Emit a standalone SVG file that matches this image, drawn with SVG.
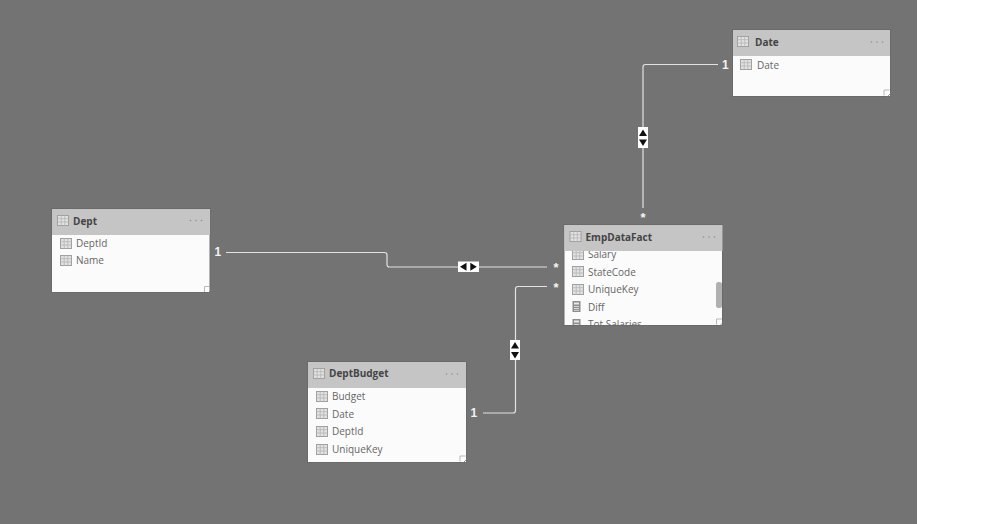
<svg xmlns="http://www.w3.org/2000/svg" width="998" height="524" viewBox="0 0 998 524">
<style>
text{font-family:"Open Sans","Noto Sans","Liberation Sans",sans-serif}
.card{fill:#fbfbfb;stroke:#6a6a6a;stroke-width:1}
.head{fill:#c5c5c5}
.title{font-size:10px;font-weight:700;fill:#444}
.field{font-size:10px;fill:#666}
.dots{fill:#8f8f8f}
.line{fill:none;stroke:#e2e2e2;stroke-width:1.2}
.card-no{font-size:12px;font-weight:700;fill:#f2f2f2;font-family:"Liberation Sans",sans-serif}
.star{font-size:13px;font-weight:700;fill:#f5f5f5;font-family:"Liberation Sans",sans-serif;text-anchor:middle}
.badge{fill:#fff}
.arrow{fill:#111}
.grip{fill:none;stroke:#a8a8a8;stroke-width:.8}
.ic-t{fill:#e2e2e2;stroke:#a0a0a0;stroke-width:1}
.ic-l{stroke:#b4b4b4;stroke-width:.8;fill:none}
.ic-c{fill:#8e8e8e}
</style>
<defs>
<symbol id="tbl" viewBox="0 0 12 11" width="12" height="11" overflow="visible">
<rect class="ic-t" x=".5" y=".5" width="11" height="10"/>
<path class="ic-l" d="M.5 3.7H11.5M.5 7H11.5M4.2 .5V10.5M7.8 .5V10.5"/>
</symbol>
<symbol id="calc" viewBox="0 0 9 11" width="9" height="11" overflow="visible">
<rect class="ic-c" x=".5" y="0" width="8" height="11"/>
<rect x="2" y="1.5" width="5" height="2" fill="#e8e8e8"/>
<path d="M2 5.5H7M2 7.5H7M2 9.3H7" stroke="#e8e8e8" stroke-width=".8"/>
</symbol>
<symbol id="grip" viewBox="0 0 8 8" width="8" height="8" overflow="visible">
<path class="grip" d="M.5 6V.5H6"/>
<path d="M3.5 7.500L7.500 3.500M5.500 7.500L7.500 5.500" stroke="#777" stroke-width=".8" fill="none"/>
</symbol>
<clipPath id="empBody"><rect x="564" y="251" width="158" height="74"/></clipPath>
</defs>
<rect width="998" height="524" fill="#fff"/>
<rect width="917" height="524" fill="#737373"/>

<g id="connectors">
<path class="line" d="M718 64.500H645.500Q643 64.500 643 67V208"/>
<path class="line" d="M226 252.500H384.500Q387 252.500 387 255V264.500Q387 267 389.500 267H547"/>
<path class="line" d="M547 286.500H518Q515.500 286.500 515.500 289V410.500Q515.500 413 513 413H483"/>
<g>
<rect class="badge" x="638" y="127" width="10" height="21"/>
<path class="arrow" d="M643 129.500L647 136H639ZM643 146L639 139.500H647Z"/>
</g>
<g>
<rect class="badge" x="458" y="261.500" width="21" height="10.500"/>
<path class="arrow" d="M460 266.700L466.500 262.800V270.700ZM476.800 266.700L470.300 262.800V270.700Z"/>
</g>
<g>
<rect class="badge" x="510" y="340" width="10" height="20"/>
<path class="arrow" d="M515 342L519 348.500H511ZM515 358.500L511 352H519Z"/>
</g>
<text class="card-no" x="722" y="68.500">1</text>
<text class="card-no" x="214.500" y="256">1</text>
<text class="card-no" x="470.500" y="416.500">1</text>
<text class="star" x="643" y="222">*</text>
<text class="star" x="556" y="272">*</text>
<text class="star" x="556" y="291.500">*</text>
</g>

<g id="date">
<rect class="card" x="732.500" y="29.500" width="158" height="67"/>
<rect class="head" x="733" y="30" width="157" height="26"/>
<use href="#tbl" x="737" y="36"/>
<text class="title" x="755" y="45.500">Date</text>
<g class="dots"><circle cx="871.500" cy="42" r=".8"/><circle cx="877" cy="42" r=".8"/><circle cx="882.500" cy="42" r=".8"/></g>
<use href="#tbl" x="740" y="59"/>
<text class="field" x="757" y="68.500">Date</text>
<use href="#grip" x="883.500" y="89.500"/>
</g>

<g id="dept">
<rect class="card" x="51.500" y="208.500" width="158.500" height="84"/>
<rect class="head" x="52" y="209" width="158" height="26"/>
<use href="#tbl" x="57" y="215"/>
<text class="title" x="73" y="224.500">Dept</text>
<g class="dots"><circle cx="190.500" cy="220.500" r=".8"/><circle cx="196" cy="220.500" r=".8"/><circle cx="201.500" cy="220.500" r=".8"/></g>
<use href="#tbl" x="60" y="238"/>
<text class="field" x="76" y="246.500">DeptId</text>
<use href="#tbl" x="60" y="255"/>
<text class="field" x="76" y="264">Name</text>
<use href="#grip" x="204" y="286"/>
</g>

<g id="empdatafact">
<rect class="card" x="564" y="224.500" width="158.500" height="101"/>
<g clip-path="url(#empBody)">
<use href="#tbl" x="572" y="249"/>
<text class="field" x="588" y="258">Salary</text>
<use href="#tbl" x="572" y="266"/>
<text class="field" x="588" y="275.500">StateCode</text>
<use href="#tbl" x="572" y="284"/>
<text class="field" x="588" y="293">UniqueKey</text>
<use href="#calc" x="572" y="301"/>
<text class="field" x="588" y="310.500">Diff</text>
<use href="#calc" x="572" y="319"/>
<text class="field" x="588" y="327.500">Tot Salaries</text>
</g>
<rect class="head" x="564.500" y="225" width="158" height="26"/>
<use href="#tbl" x="569.500" y="231"/>
<text class="title" x="585.500" y="240.500">EmpDataFact</text>
<g class="dots"><circle cx="703.500" cy="237" r=".8"/><circle cx="709" cy="237" r=".8"/><circle cx="714.500" cy="237" r=".8"/></g>
<rect x="716" y="282" width="6" height="26" rx="2.500" fill="#b0b0b0"/>
<use href="#grip" x="716" y="318.500"/>
</g>

<g id="deptbudget">
<rect class="card" x="307.500" y="361.500" width="159" height="101"/>
<rect class="head" x="308" y="362" width="158" height="26"/>
<use href="#tbl" x="313" y="368"/>
<text class="title" x="329" y="377">DeptBudget</text>
<g class="dots"><circle cx="446.500" cy="374" r=".8"/><circle cx="452" cy="374" r=".8"/><circle cx="457.500" cy="374" r=".8"/></g>
<use href="#tbl" x="316" y="391"/>
<text class="field" x="332" y="400">Budget</text>
<use href="#tbl" x="316" y="408"/>
<text class="field" x="332" y="417.500">Date</text>
<use href="#tbl" x="316" y="426"/>
<text class="field" x="332" y="435">DeptId</text>
<use href="#tbl" x="316" y="444"/>
<text class="field" x="332" y="453">UniqueKey</text>
<use href="#grip" x="459.500" y="455.500"/>
</g>
</svg>
